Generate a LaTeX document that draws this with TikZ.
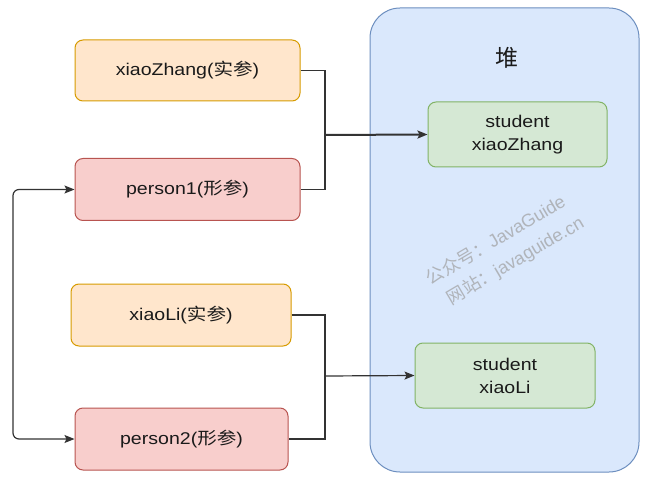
\documentclass[tikz,border=0pt]{standalone}
\usepackage{fontspec}
\setmainfont[FakeStretch=1.15]{Liberation Sans}
\newfontfamily\cjk[FakeStretch=1.15]{Noto Sans CJK SC}
\newfontfamily\cjkplain{Noto Sans CJK SC}
\newfontfamily\wmfont{Liberation Sans}
\usetikzlibrary{arrows.meta}
\definecolor{orF}{HTML}{FFE6CC}\definecolor{orD}{HTML}{D79B00}
\definecolor{rdF}{HTML}{F8CECC}\definecolor{rdD}{HTML}{B85450}
\definecolor{grF}{HTML}{D5E8D4}\definecolor{grD}{HTML}{82B366}
\definecolor{blF}{HTML}{DAE8FC}\definecolor{blD}{HTML}{6C8EBF}
\definecolor{txt}{HTML}{1A1A1A}
\definecolor{wm}{HTML}{B0B4BA}
\definecolor{ln}{HTML}{333333}
\tikzset{
  box/.style={rounded corners=8pt, line width=1pt, inner sep=0pt, text=txt,
    font=\fontsize{17}{23}\selectfont, align=center},
  orbox/.style={box, fill=orF, draw=orD},
  rdbox/.style={box, fill=rdF, draw=rdD},
  grbox/.style={box, fill=grF, draw=grD},
  conn/.style={draw=ln, line width=1.2pt},
  tip/.style={-{Stealth[length=10pt,width=8pt,inset=2pt]}},
}
\begin{document}
\begin{tikzpicture}[x=1pt,y=-1pt]
\useasboundingbox (0,0) rectangle (656,489);
% heap
\node[draw=blD, fill=blF, line width=1pt, rounded corners=30pt,
  minimum width=269pt, minimum height=464pt] (heap) at (504.5,240) {};
\node[text=txt, font=\cjkplain\fontsize{23}{23}\selectfont] (heaplbl) at (507,58) {堆};
% watermark
\node[text=wm, rotate=30.5, align=left, inner sep=0pt,
  font=\wmfont\fontsize{18}{27.5}\selectfont] (wm) at (505,251)
  {{\cjkplain 公众号：}JavaGuide\\\hspace*{8pt}{\cjkplain 网站：}javaguide.cn};
% boxes
\node[orbox, minimum width=225pt, minimum height=61pt] (zh) at (187.5,70.5) {xiaoZhang({\cjk 实参})};
\node[rdbox, minimum width=225pt, minimum height=62pt] (p1) at (187.5,189.5) {person1({\cjk 形参})};
\node[orbox, minimum width=220pt, minimum height=62pt] (xl) at (181,315) {xiaoLi({\cjk 实参})};
\node[rdbox, minimum width=213pt, minimum height=62pt] (p2) at (181.5,439) {person2({\cjk 形参})};
\node[grbox, minimum width=179pt, minimum height=65pt] (s1) at (517.5,134.5) {student\\xiaoZhang};
\node[grbox, minimum width=180pt, minimum height=65pt] (s2) at (505,375.5) {student\\xiaoLi};
% connectors
\coordinate (j1) at (325,135);
\coordinate (j2) at (325,376);
\draw[conn] (zh.east) -- (zh.east -| j1) -- (p1.east -| j1) -- (p1.east);
\draw[conn, line width=2pt, tip] (j1) -- (s1.west);
\draw[conn] (xl.east) -- (xl.east -| j2) -- (p2.east -| j2) -- (p2.east);
\draw[conn, tip] (j2) -- (s2.west);
\coordinate (lft) at (13,300);
\draw[conn, rounded corners=6pt, {Stealth[length=10pt,width=8pt,inset=2pt]}-{Stealth[length=10pt,width=8pt,inset=2pt]}]
  (p1.west) -- (p1.west -| lft) -- (p2.west -| lft) -- (p2.west);
\end{tikzpicture}
\end{document}
